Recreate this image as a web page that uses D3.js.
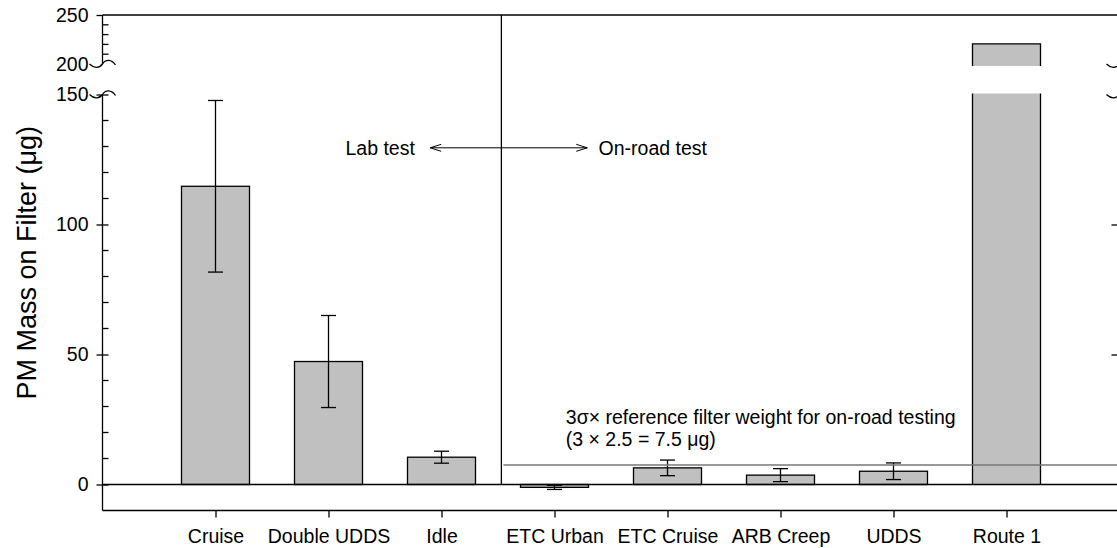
<!DOCTYPE html>
<html>
<head>
<meta charset="utf-8">
<script src="https://cdn.jsdelivr.net/npm/d3@7/dist/d3.min.js"></script>
<style>
  body { margin: 0; background: #fff; }
  svg { display: block; font-family: Arial, "Liberation Sans", sans-serif; }
</style>
</head>
<body>
<svg></svg>
<script>
// test names, PM mass on filter (ug) and error bar half-widths
const categories = ["Cruise", "Double UDDS", "Idle", "ETC Urban", "ETC Cruise", "ARB Creep", "UDDS", "Route 1"];
const pmMass = [114.7, 47.3, 10.5, -1.1, 6.4, 3.6, 5.1, 220.5];
const pmError = [33, 17.7, 2.3, 0.8, 3.0, 2.5, 3.2, 0];

const lowerTicks = [0, 50, 100, 150];
const upperTicks = [200, 250];
const refLimit = 7.5;       // 3 sigma x reference filter weight
const dividerAt = 3.53;     // lab / on-road boundary, in category units

const width = 1117, height = 548;
const svg = d3.select("svg").attr("width", width).attr("height", height);

const axisX = 102.5, rightX = 1119.5;
const x = d3.scaleLinear().domain([0, categories.length + 1]).range([axisX, rightX]);

// broken y axis: lower and upper segments
const yLow = d3.scaleLinear().domain([-10, 150]).range([510.5, 94.5]);
const yHigh = d3.scaleLinear().domain([200, 250]).range([64, 15]);
const y = v => v > 175 ? yHigh(v) : yLow(v);

const barW = 68;
const fontSize = 19.5;

// bars
const bars = svg.append("g");
categories.forEach((c, i) => {
    const v = pmMass[i];
    const cx = x(i + 1);
    if (v <= 150) {
        bars.append("rect")
            .attr("x", cx - barW / 2)
            .attr("y", Math.min(yLow(v), yLow(0)))
            .attr("width", barW)
            .attr("height", Math.abs(yLow(0) - yLow(v)))
            .attr("fill", "#c0c0c0")
            .attr("stroke", "#000")
            .attr("stroke-width", 1.3);
    } else {
        // bar runs through the break: fill both parts, outline without the gap
        const gTop = yHigh(200) + 2, gBot = yLow(150) - 1;
        bars.append("rect").attr("x", cx - barW / 2).attr("y", yHigh(v))
            .attr("width", barW).attr("height", gTop - yHigh(v)).attr("fill", "#c0c0c0");
        bars.append("rect").attr("x", cx - barW / 2).attr("y", gBot)
            .attr("width", barW).attr("height", yLow(0) - gBot).attr("fill", "#c0c0c0");
        const p = d3.path();
        p.moveTo(cx - barW / 2, gTop); p.lineTo(cx - barW / 2, yHigh(v));
        p.lineTo(cx + barW / 2, yHigh(v)); p.lineTo(cx + barW / 2, gTop);
        p.moveTo(cx - barW / 2, gBot); p.lineTo(cx - barW / 2, yLow(0));
        p.moveTo(cx + barW / 2, gBot); p.lineTo(cx + barW / 2, yLow(0));
        bars.append("path").attr("d", p.toString()).attr("fill", "none")
            .attr("stroke", "#000").attr("stroke-width", 1.3);
    }
    // error bars
    const e = pmError[i];
    if (e > 0) {
        const eb = bars.append("g").attr("stroke", "#000").attr("stroke-width", 1.3);
        eb.append("line").attr("x1", cx).attr("x2", cx).attr("y1", y(v + e)).attr("y2", y(v - e));
        [v + e, v - e].forEach(t => eb.append("line")
            .attr("x1", cx - 7.5).attr("x2", cx + 7.5).attr("y1", y(t)).attr("y2", y(t)));
    }
});

// frame lines
const frame = svg.append("g").attr("stroke", "#000").attr("stroke-width", 1.3).attr("fill", "none");
frame.append("line").attr("x1", axisX).attr("x2", rightX).attr("y1", yHigh(250)).attr("y2", yHigh(250));
frame.append("line").attr("x1", axisX).attr("x2", rightX).attr("y1", yLow(-10)).attr("y2", yLow(-10));
frame.append("line").attr("x1", axisX).attr("x2", rightX).attr("y1", yLow(0)).attr("y2", yLow(0));
[axisX, rightX].forEach(ax => {
    frame.append("line").attr("x1", ax).attr("x2", ax).attr("y1", yHigh(250)).attr("y2", yHigh(200));
    frame.append("line").attr("x1", ax).attr("x2", ax).attr("y1", yLow(150)).attr("y2", yLow(-10));
});

// lab / on-road divider and reference line
frame.append("line").attr("x1", x(dividerAt)).attr("x2", x(dividerAt))
    .attr("y1", yHigh(250)).attr("y2", yLow(0));
svg.append("line").attr("x1", x(dividerAt) + 2).attr("x2", rightX)
    .attr("y1", yLow(refLimit)).attr("y2", yLow(refLimit))
    .attr("stroke", "#777").attr("stroke-width", 1.3);

// left axis, both segments
const leftLow = svg.append("g").attr("transform", `translate(${axisX},0)`)
    .call(d3.axisLeft(yLow).tickValues(lowerTicks).tickSize(6).tickFormat(d => d === 150 ? "" : d));
const leftHigh = svg.append("g").attr("transform", `translate(${axisX},0)`)
    .call(d3.axisLeft(yHigh).tickValues(upperTicks).tickSize(6).tickFormat(d => d));
[leftLow, leftHigh].forEach(g => {
    g.select(".domain").remove();
    g.selectAll("line").attr("stroke-width", 1.3).attr("x2", -6).attr("x1", 6);
    g.selectAll("text").style("font-size", fontSize + "px").attr("x", -14).attr("fill", "#000");
});
leftHigh.selectAll(".tick").filter(d => d === 250).select("line").attr("x1", 0);
leftHigh.selectAll(".tick").filter(d => d === 200).select("line").remove();
svg.append("text").attr("x", axisX - 14).attr("y", yLow(150)).attr("dy", "0.32em")
    .attr("text-anchor", "end").style("font-size", fontSize + "px").text("150");

// minor ticks, inward
const minorLow = d3.range(-10, 150, 10).filter(v => v % 50 !== 0 && v > -10);
const minorHigh = d3.range(210, 250, 10);
const minor = svg.append("g").attr("stroke", "#000").attr("stroke-width", 1.3);
minorLow.forEach(v => minor.append("line").attr("x1", axisX).attr("x2", axisX + 6)
    .attr("y1", yLow(v)).attr("y2", yLow(v)));
minorHigh.forEach(v => minor.append("line").attr("x1", axisX).attr("x2", axisX + 6)
    .attr("y1", yHigh(v)).attr("y2", yHigh(v)));

// right axis ticks, inward
const rightAxis = svg.append("g").attr("transform", `translate(${rightX},0)`)
    .call(d3.axisRight(yLow).tickValues([50, 100]).tickSize(-8).tickFormat(""));
rightAxis.select(".domain").remove();
rightAxis.selectAll("line").attr("stroke-width", 1.3);

// axis break marks
const breakMark = (ax, yy) => `M${ax - 13},${yy} C${ax - 8},${yy + 5} ${ax - 3},${yy + 4} ${ax},${yy}`
    + ` C${ax + 3},${yy - 5} ${ax + 9},${yy - 5} ${ax + 13},${yy + 1}`;
const breaks = svg.append("g").attr("fill", "none").attr("stroke", "#000").attr("stroke-width", 1.3);
[axisX, rightX].forEach(ax => {
    breaks.append("path").attr("d", breakMark(ax, yHigh(200)));
    breaks.append("path").attr("d", breakMark(ax, yLow(150)));
});

// x axis
const xAxis = svg.append("g").attr("transform", `translate(0,${yLow(-10)})`)
    .call(d3.axisBottom(x).tickValues(d3.range(1, categories.length + 1))
        .tickSize(7).tickPadding(12).tickFormat(d => categories[d - 1]));
xAxis.select(".domain").remove();
xAxis.selectAll("line").attr("stroke-width", 1.3);
xAxis.selectAll("text").style("font-size", fontSize + "px").attr("fill", "#000");

// y axis title
svg.append("text")
    .attr("transform", `translate(27,${(yHigh(250) + yLow(-10)) / 2}) rotate(-90)`)
    .attr("text-anchor", "middle").attr("dy", "0.35em")
    .style("font-size", "27px").text("PM Mass on Filter (μg)");

// annotations
const ann = svg.append("g").style("font-size", "19.5px");
const arrowY = yLow(129.5);
ann.append("text").attr("x", x(2.15)).attr("y", arrowY).attr("dy", "0.35em").text("Lab test");
ann.append("text").attr("x", x(4.39)).attr("y", arrowY).attr("dy", "0.35em").text("On-road test");
const ax1 = x(2.90), ax2 = x(4.29);
const arr = d3.path();
arr.moveTo(ax1, arrowY); arr.lineTo(ax2, arrowY);
arr.moveTo(ax1 + 11, arrowY - 3.5); arr.lineTo(ax1, arrowY); arr.lineTo(ax1 + 11, arrowY + 3.5);
arr.moveTo(ax2 - 11, arrowY - 3.5); arr.lineTo(ax2, arrowY); arr.lineTo(ax2 - 11, arrowY + 3.5);
ann.append("path").attr("d", arr.toString()).attr("fill", "none").attr("stroke", "#000").attr("stroke-width", 1);

ann.append("text").attr("x", x(4.1)).attr("y", yLow(26)).attr("dy", "0.35em")
    .text("3σ× reference filter weight for on-road testing");
ann.append("text").attr("x", x(4.1)).attr("y", yLow(17.5)).attr("dy", "0.35em")
    .text("(3 × 2.5 = 7.5 μg)");
</script>
</body>
</html>
